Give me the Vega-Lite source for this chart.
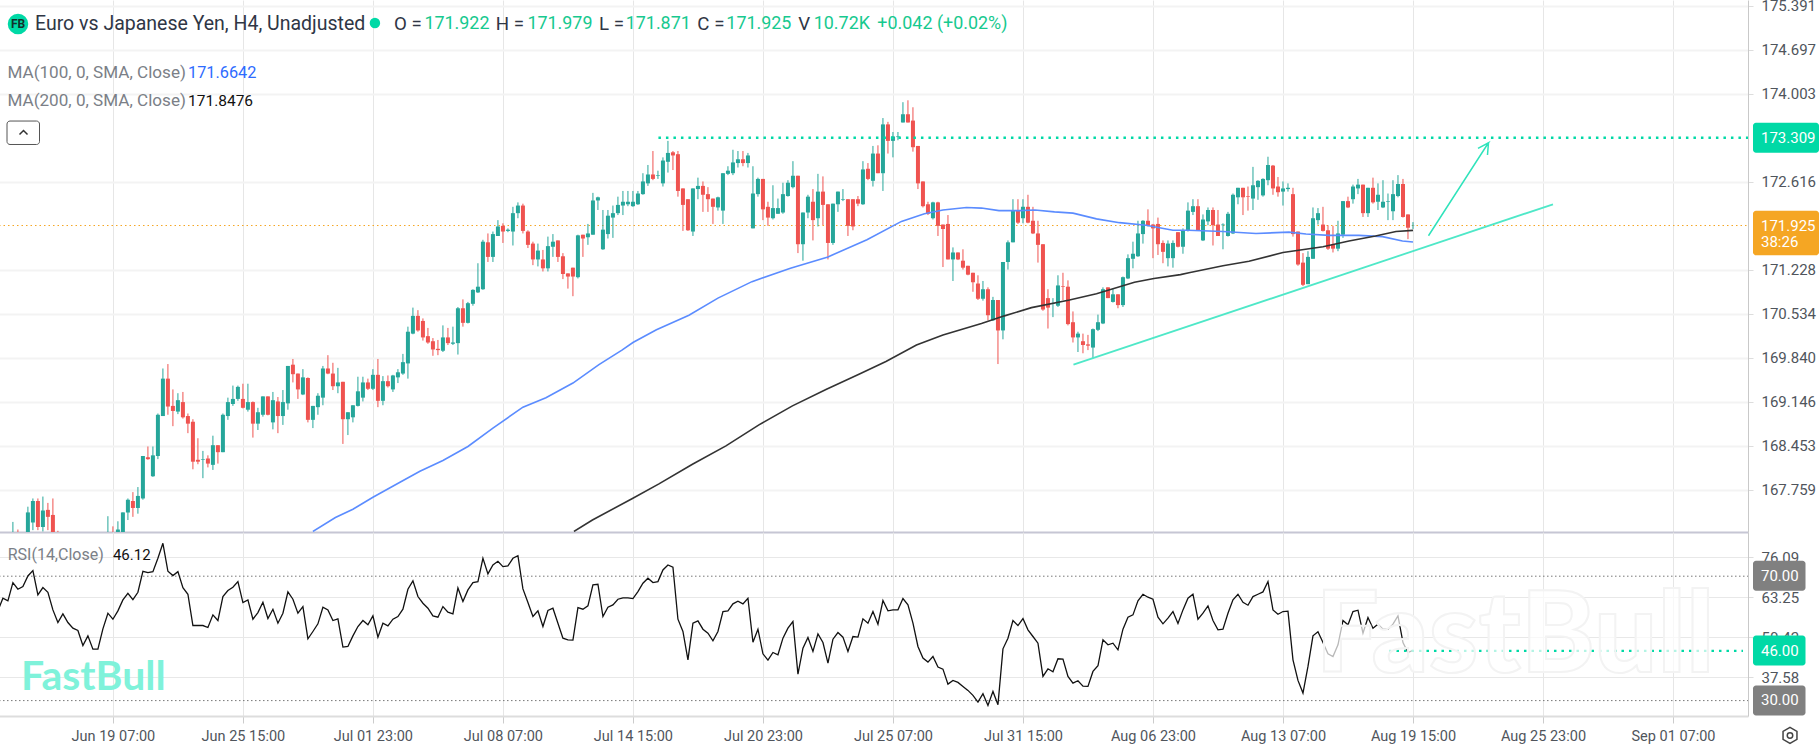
{
"$schema":"https://vega.github.io/schema/vega-lite/v6.json",
"padding":{"left":-2,"top":-2,"right":0,"bottom":0},
"background":"#ffffff",
"bounds":"flush",
"spacing":0,
"config":{"font":"Roboto","view":{"stroke":null},"axis":{"labelFont":"Roboto"}},
"datasets":{
"candles":[
{"i":3,"o":166.9,"h":167.25,"l":166.8,"c":167.0},{"i":4,"o":167.0,"h":167.13,"l":166.8,"c":166.9},{"i":6,"o":167.0,"h":167.49,"l":166.9,"c":167.4},{"i":7,"o":167.24,"h":167.62,"l":167.12,"c":167.58},{"i":8,"o":167.58,"h":167.62,"l":167.12,"c":167.17},{"i":9,"o":167.17,"h":167.65,"l":167.1,"c":167.43},{"i":10,"o":167.44,"h":167.55,"l":167.12,"c":167.33},{"i":11,"o":167.36,"h":167.62,"l":166.9,"c":167.0},{"i":12,"o":167.0,"h":167.11,"l":166.8,"c":166.9},
{"i":22,"o":166.9,"h":167.34,"l":166.8,"c":167.0},{"i":23,"o":167.0,"h":167.18,"l":166.8,"c":166.9},{"i":24,"o":167.0,"h":167.26,"l":166.9,"c":167.13},{"i":25,"o":167.03,"h":167.4,"l":167.0,"c":167.4},{"i":26,"o":167.4,"h":167.62,"l":167.28,"c":167.6},{"i":27,"o":167.58,"h":167.72,"l":167.33,"c":167.47},{"i":28,"o":167.47,"h":167.8,"l":167.38,"c":167.66},{"i":29,"o":167.62,"h":168.29,"l":167.6,"c":168.29},{"i":30,"o":168.27,"h":168.44,"l":168.23,"c":168.24},{"i":31,"o":167.97,"h":168.44,"l":167.96,"c":168.3},{"i":32,"o":168.29,"h":168.96,"l":168.24,"c":168.94},{"i":33,"o":168.92,"h":169.67,"l":168.92,"c":169.51},{"i":34,"o":169.51,"h":169.74,"l":168.94,"c":169.07},{"i":35,"o":169.08,"h":169.34,"l":168.76,"c":169.0},{"i":36,"o":168.99,"h":169.28,"l":168.95,"c":169.17},{"i":37,"o":169.14,"h":169.3,"l":168.88,"c":168.9},{"i":38,"o":168.92,"h":168.96,"l":168.65,"c":168.8},{"i":39,"o":168.83,"h":168.87,"l":168.08,"c":168.2},{"i":40,"o":168.23,"h":168.57,"l":168.16,"c":168.2},{"i":41,"o":168.23,"h":168.37,"l":167.94,"c":168.24},{"i":42,"o":168.25,"h":168.3,"l":168.11,"c":168.17},{"i":43,"o":168.15,"h":168.61,"l":168.07,"c":168.46},{"i":44,"o":168.46,"h":168.46,"l":168.17,"c":168.35},{"i":45,"o":168.35,"h":168.96,"l":168.35,"c":168.94},{"i":46,"o":168.92,"h":169.21,"l":168.86,"c":169.14},{"i":47,"o":169.11,"h":169.4,"l":169.08,"c":169.19},{"i":48,"o":169.19,"h":169.4,"l":169.16,"c":169.38},{"i":49,"o":169.19,"h":169.43,"l":169.04,"c":169.05},{"i":50,"o":169.02,"h":169.43,"l":168.99,"c":169.14},{"i":51,"o":169.14,"h":169.15,"l":168.58,"c":168.8},{"i":52,"o":168.8,"h":169.05,"l":168.7,"c":168.98},{"i":53,"o":168.94,"h":169.23,"l":168.91,"c":169.23},{"i":54,"o":169.23,"h":169.23,"l":168.93,"c":168.94},{"i":55,"o":168.82,"h":169.3,"l":168.71,"c":169.17},{"i":56,"o":169.15,"h":169.22,"l":168.65,"c":168.92},{"i":57,"o":168.92,"h":169.33,"l":168.78,"c":169.14},{"i":58,"o":169.12,"h":169.71,"l":169.02,"c":169.71},{"i":59,"o":169.73,"h":169.82,"l":169.45,"c":169.58},{"i":60,"o":169.59,"h":169.59,"l":169.19,"c":169.34},{"i":61,"o":169.26,"h":169.66,"l":169.25,"c":169.53},{"i":62,"o":169.52,"h":169.53,"l":168.82,"c":168.86},{"i":63,"o":168.86,"h":169.08,"l":168.73,"c":169.08},{"i":64,"o":169.06,"h":169.28,"l":168.94,"c":169.24},{"i":65,"o":169.21,"h":169.71,"l":169.09,"c":169.67},{"i":66,"o":169.67,"h":169.88,"l":169.58,"c":169.59},{"i":67,"o":169.59,"h":169.76,"l":169.33,"c":169.39},{"i":68,"o":169.39,"h":169.68,"l":169.28,"c":169.45},{"i":69,"o":169.46,"h":169.46,"l":168.48,"c":168.87},{"i":70,"o":168.87,"h":168.98,"l":168.62,"c":168.98},{"i":71,"o":168.9,"h":169.09,"l":168.82,"c":169.09},{"i":72,"o":169.08,"h":169.54,"l":169.07,"c":169.31},{"i":73,"o":169.21,"h":169.54,"l":169.15,"c":169.45},{"i":74,"o":169.45,"h":169.51,"l":169.33,"c":169.35},{"i":75,"o":169.35,"h":169.66,"l":169.33,"c":169.57},{"i":76,"o":169.57,"h":169.82,"l":169.06,"c":169.16},{"i":77,"o":169.16,"h":169.55,"l":169.09,"c":169.47},{"i":78,"o":169.47,"h":169.56,"l":169.37,"c":169.39},{"i":79,"o":169.34,"h":169.57,"l":169.3,"c":169.56},{"i":80,"o":169.53,"h":169.66,"l":169.44,"c":169.61},{"i":81,"o":169.59,"h":169.9,"l":169.57,"c":169.77},{"i":82,"o":169.75,"h":170.33,"l":169.51,"c":170.25},{"i":83,"o":170.22,"h":170.63,"l":170.21,"c":170.5},{"i":84,"o":170.5,"h":170.59,"l":170.25,"c":170.27},{"i":85,"o":170.42,"h":170.46,"l":170.11,"c":170.16},{"i":86,"o":170.18,"h":170.31,"l":170.06,"c":170.08},{"i":87,"o":170.1,"h":170.15,"l":169.87,"c":169.97},{"i":88,"o":169.98,"h":170.12,"l":169.88,"c":169.96},{"i":89,"o":169.95,"h":170.35,"l":169.93,"c":170.16},{"i":90,"o":170.16,"h":170.31,"l":170.04,"c":170.07},{"i":91,"o":170.06,"h":170.33,"l":170.04,"c":170.08},{"i":92,"o":170.07,"h":170.64,"l":169.89,"c":170.62},{"i":93,"o":170.62,"h":170.76,"l":170.33,"c":170.39},{"i":94,"o":170.39,"h":170.72,"l":170.38,"c":170.7},{"i":95,"o":170.69,"h":170.92,"l":170.66,"c":170.91},{"i":96,"o":170.87,"h":171.33,"l":170.86,"c":170.96},{"i":97,"o":170.92,"h":171.7,"l":170.91,"c":171.67},{"i":98,"o":171.66,"h":171.8,"l":171.35,"c":171.43},{"i":99,"o":171.43,"h":171.83,"l":171.35,"c":171.79},{"i":100,"o":171.76,"h":172.01,"l":171.76,"c":171.91},
{"i":101,"o":171.92,"h":171.96,"l":171.65,"c":171.83},{"i":102,"o":171.84,"h":171.88,"l":171.82,"c":171.86},{"i":103,"o":171.83,"h":172.22,"l":171.61,"c":172.12},{"i":104,"o":172.12,"h":172.29,"l":172.04,"c":172.24},{"i":105,"o":172.24,"h":172.27,"l":171.8,"c":171.84},{"i":106,"o":171.83,"h":171.85,"l":171.57,"c":171.62},{"i":107,"o":171.64,"h":171.67,"l":171.3,"c":171.39},{"i":108,"o":171.39,"h":171.64,"l":171.28,"c":171.53},{"i":109,"o":171.39,"h":171.54,"l":171.2,"c":171.25},{"i":110,"o":171.25,"h":171.75,"l":171.2,"c":171.6},{"i":111,"o":171.59,"h":171.79,"l":171.43,"c":171.67},{"i":112,"o":171.69,"h":171.69,"l":171.35,"c":171.43},{"i":113,"o":171.44,"h":171.49,"l":171.08,"c":171.16},{"i":114,"o":171.17,"h":171.17,"l":170.93,"c":171.12},{"i":115,"o":171.26,"h":171.26,"l":170.81,"c":171.12},{"i":116,"o":171.11,"h":171.78,"l":171.09,"c":171.77},{"i":117,"o":171.78,"h":171.78,"l":171.43,"c":171.72},{"i":118,"o":171.74,"h":171.95,"l":171.62,"c":171.8},{"i":119,"o":171.78,"h":172.44,"l":171.78,"c":172.32},{"i":120,"o":172.32,"h":172.38,"l":172.17,"c":172.37},
{"i":121,"o":171.55,"h":172.17,"l":171.54,"c":171.86},{"i":122,"o":171.79,"h":172.17,"l":171.72,"c":172.08},{"i":123,"o":172.05,"h":172.24,"l":171.73,"c":172.12},{"i":124,"o":172.12,"h":172.38,"l":172.09,"c":172.25},{"i":125,"o":172.24,"h":172.47,"l":172.09,"c":172.3},{"i":126,"o":172.26,"h":172.47,"l":172.23,"c":172.3},{"i":127,"o":172.23,"h":172.47,"l":172.22,"c":172.3},{"i":128,"o":172.26,"h":172.47,"l":172.25,"c":172.43},{"i":129,"o":172.42,"h":172.75,"l":172.41,"c":172.62},{"i":130,"o":172.59,"h":172.88,"l":172.55,"c":172.73},{"i":131,"o":172.73,"h":173.1,"l":172.64,"c":172.66},{"i":132,"o":172.71,"h":172.79,"l":172.66,"c":172.72},{"i":133,"o":172.59,"h":173.0,"l":172.54,"c":172.95},{"i":134,"o":172.93,"h":173.26,"l":172.76,"c":173.07},{"i":135,"o":173.08,"h":173.1,"l":172.8,"c":173.03},{"i":136,"o":173.05,"h":173.1,"l":172.38,"c":172.47},{"i":137,"o":172.51,"h":172.51,"l":171.84,"c":172.25},{"i":138,"o":172.34,"h":172.34,"l":171.84,"c":171.85},{"i":139,"o":171.83,"h":172.51,"l":171.76,"c":172.51},{"i":140,"o":172.5,"h":172.68,"l":172.34,"c":172.55},{"i":141,"o":172.55,"h":172.62,"l":172.14,"c":172.41},{"i":142,"o":172.42,"h":172.53,"l":172.14,"c":172.34},{"i":143,"o":172.35,"h":172.35,"l":171.95,"c":172.22},{"i":144,"o":172.21,"h":172.38,"l":172.16,"c":172.37},{"i":145,"o":172.16,"h":172.75,"l":171.95,"c":172.75},{"i":146,"o":172.74,"h":172.86,"l":172.72,"c":172.79},{"i":147,"o":172.75,"h":173.12,"l":172.72,"c":172.92},{"i":148,"o":172.91,"h":173.1,"l":172.84,"c":172.97},{"i":149,"o":172.97,"h":173.1,"l":172.86,"c":172.91},{"i":150,"o":172.91,"h":173.07,"l":172.84,"c":173.03},{"i":151,"o":171.88,"h":172.86,"l":171.88,"c":172.43},{"i":152,"o":172.42,"h":172.68,"l":172.38,"c":172.66},{"i":153,"o":172.66,"h":172.66,"l":172.01,"c":172.18},{"i":154,"o":172.22,"h":172.3,"l":171.92,"c":172.05},{"i":155,"o":172.04,"h":172.56,"l":172.02,"c":172.2},{"i":156,"o":172.11,"h":172.35,"l":172.11,"c":172.2},{"i":157,"o":172.13,"h":172.6,"l":172.11,"c":172.42},{"i":158,"o":172.39,"h":172.64,"l":172.38,"c":172.6},{"i":159,"o":172.53,"h":172.94,"l":172.51,"c":172.71},{"i":160,"o":172.71,"h":172.71,"l":171.49,"c":171.63},{"i":161,"o":171.63,"h":172.13,"l":171.37,"c":172.13},{"i":162,"o":172.13,"h":172.41,"l":172.04,"c":172.38},{"i":163,"o":172.3,"h":172.5,"l":171.69,"c":172.01},{"i":164,"o":172.04,"h":172.74,"l":171.91,"c":172.46},{"i":165,"o":172.46,"h":172.7,"l":171.93,"c":172.25},{"i":166,"o":172.26,"h":172.26,"l":171.39,"c":171.65},{"i":167,"o":171.65,"h":172.27,"l":171.62,"c":172.27},{"i":168,"o":172.26,"h":172.46,"l":172.14,"c":172.46},{"i":169,"o":172.33,"h":172.5,"l":172.31,"c":172.34},{"i":170,"o":172.34,"h":172.34,"l":171.76,"c":171.92},{"i":171,"o":172.34,"h":172.34,"l":171.85,"c":171.91},{"i":172,"o":172.34,"h":172.39,"l":172.23,"c":172.27},{"i":173,"o":172.26,"h":172.94,"l":172.25,"c":172.81},{"i":174,"o":172.82,"h":172.91,"l":172.64,"c":172.66},{"i":175,"o":172.63,"h":173.18,"l":172.54,"c":173.06},{"i":176,"o":173.06,"h":173.19,"l":172.75,"c":172.75},{"i":177,"o":172.75,"h":173.62,"l":172.47,"c":173.52},{"i":178,"o":173.52,"h":173.56,"l":173.06,"c":173.26},{"i":179,"o":173.26,"h":173.4,"l":173.0,"c":173.33},{"i":180,"o":173.32,"h":173.4,"l":173.27,"c":173.33},{"i":181,"o":173.55,"h":173.87,"l":173.55,"c":173.68},{"i":182,"o":173.68,"h":173.9,"l":173.55,"c":173.55},{"i":183,"o":173.58,"h":173.79,"l":173.09,"c":173.16},{"i":184,"o":173.18,"h":173.18,"l":172.5,"c":172.59},{"i":185,"o":172.62,"h":172.62,"l":172.21,"c":172.23},{"i":186,"o":172.26,"h":172.3,"l":172.09,"c":172.11},{"i":187,"o":172.04,"h":172.3,"l":172.02,"c":172.29},{"i":188,"o":172.29,"h":172.3,"l":171.76,"c":171.92},{"i":189,"o":171.94,"h":171.94,"l":171.27,"c":171.87},{"i":190,"o":171.95,"h":172.09,"l":171.39,"c":171.39},{"i":191,"o":171.39,"h":171.58,"l":171.05,"c":171.5},{"i":192,"o":171.5,"h":171.5,"l":171.38,"c":171.39},{"i":193,"o":171.37,"h":171.55,"l":171.23,"c":171.26},{"i":194,"o":171.29,"h":171.29,"l":171.14,"c":171.15},{"i":195,"o":171.18,"h":171.18,"l":170.88,"c":171.03},{"i":196,"o":171.01,"h":171.14,"l":170.75,"c":170.77},{"i":197,"o":170.77,"h":171.05,"l":170.74,"c":170.92},{"i":198,"o":170.92,"h":170.95,"l":170.43,"c":170.51},{"i":199,"o":170.43,"h":170.8,"l":170.42,"c":170.75},{"i":200,"o":170.75,"h":170.75,"l":169.74,"c":170.27},
{"i":201,"o":170.27,"h":171.35,"l":170.13,"c":171.35},{"i":202,"o":171.35,"h":171.69,"l":171.23,"c":171.66},{"i":203,"o":171.66,"h":172.34,"l":171.66,"c":172.17},{"i":204,"o":172.16,"h":172.34,"l":171.95,"c":171.97},{"i":205,"o":172.04,"h":172.34,"l":171.96,"c":172.22},{"i":206,"o":172.22,"h":172.41,"l":171.96,"c":171.97},{"i":207,"o":172.0,"h":172.22,"l":171.79,"c":171.8},{"i":208,"o":171.8,"h":172.0,"l":171.34,"c":171.62},{"i":209,"o":171.63,"h":171.63,"l":170.58,"c":170.6},{"i":210,"o":170.78,"h":170.92,"l":170.3,"c":170.63},{"i":211,"o":170.69,"h":170.78,"l":170.48,"c":170.7},{"i":212,"o":170.66,"h":171.14,"l":170.64,"c":170.98},{"i":213,"o":170.97,"h":171.18,"l":170.75,"c":170.96},{"i":214,"o":170.96,"h":171.06,"l":170.35,"c":170.37},{"i":215,"o":170.4,"h":170.57,"l":170.08,"c":170.16},{"i":216,"o":170.16,"h":170.25,"l":169.93,"c":170.22},{"i":217,"o":170.1,"h":170.22,"l":169.91,"c":170.04},{"i":218,"o":170.05,"h":170.2,"l":169.96,"c":170.03},{"i":219,"o":170.0,"h":170.3,"l":169.83,"c":170.29},{"i":220,"o":170.28,"h":170.52,"l":170.26,"c":170.4},{"i":221,"o":170.38,"h":170.95,"l":170.37,"c":170.92},{"i":222,"o":170.95,"h":170.95,"l":170.78,"c":170.78},{"i":223,"o":170.72,"h":170.93,"l":170.71,"c":170.84},{"i":224,"o":170.84,"h":170.84,"l":170.62,"c":170.67},{"i":225,"o":170.67,"h":171.12,"l":170.64,"c":171.11},{"i":226,"o":171.09,"h":171.47,"l":171.08,"c":171.41},{"i":227,"o":171.4,"h":171.67,"l":171.25,"c":171.48},{"i":228,"o":171.44,"h":172.0,"l":171.43,"c":171.8},{"i":229,"o":171.79,"h":172.01,"l":171.64,"c":172.0},{"i":230,"o":172.0,"h":172.18,"l":171.91,"c":171.92},{"i":231,"o":171.94,"h":171.95,"l":171.41,"c":171.88},{"i":232,"o":171.95,"h":172.05,"l":171.46,"c":171.63},{"i":233,"o":171.65,"h":171.69,"l":171.33,"c":171.51},{"i":234,"o":171.41,"h":171.69,"l":171.28,"c":171.64},{"i":235,"o":171.41,"h":171.69,"l":171.26,"c":171.65},{"i":236,"o":171.82,"h":171.82,"l":171.58,"c":171.59},{"i":237,"o":171.59,"h":171.88,"l":171.48,"c":171.84},{"i":238,"o":171.84,"h":172.29,"l":171.83,"c":172.16},{"i":239,"o":172.14,"h":172.34,"l":172.09,"c":172.23},{"i":240,"o":172.23,"h":172.34,"l":171.84,"c":171.85},{"i":241,"o":171.69,"h":172.1,"l":171.68,"c":172.02},{"i":242,"o":171.99,"h":172.21,"l":171.93,"c":172.17},{"i":243,"o":172.17,"h":172.21,"l":171.61,"c":171.93},{"i":244,"o":171.94,"h":172.17,"l":171.76,"c":171.76},{"i":245,"o":171.93,"h":171.96,"l":171.55,"c":171.94},{"i":246,"o":171.76,"h":172.14,"l":171.75,"c":172.11},{"i":247,"o":171.8,"h":172.43,"l":171.79,"c":172.41},{"i":248,"o":172.37,"h":172.52,"l":172.26,"c":172.52},{"i":249,"o":172.52,"h":172.52,"l":172.09,"c":172.37},{"i":250,"o":172.39,"h":172.54,"l":172.16,"c":172.38},{"i":251,"o":172.35,"h":172.85,"l":172.17,"c":172.56},{"i":252,"o":172.53,"h":172.64,"l":172.33,"c":172.63},{"i":253,"o":172.4,"h":172.67,"l":172.38,"c":172.66},{"i":254,"o":172.64,"h":173.01,"l":172.56,"c":172.88},{"i":255,"o":172.87,"h":172.88,"l":172.41,"c":172.51},{"i":256,"o":172.54,"h":172.69,"l":172.38,"c":172.45},{"i":257,"o":172.46,"h":172.62,"l":172.24,"c":172.51},{"i":258,"o":172.5,"h":172.59,"l":172.46,"c":172.52},{"i":259,"o":172.42,"h":172.52,"l":171.75,"c":171.79},{"i":260,"o":171.83,"h":171.83,"l":171.29,"c":171.31},{"i":261,"o":171.34,"h":171.49,"l":170.97,"c":170.99},{"i":262,"o":171.0,"h":171.52,"l":171.0,"c":171.43},{"i":263,"o":171.4,"h":172.21,"l":171.4,"c":172.04},{"i":264,"o":172.01,"h":172.2,"l":171.94,"c":172.12},{"i":265,"o":171.94,"h":172.22,"l":171.83,"c":171.84},{"i":266,"o":171.85,"h":171.93,"l":171.54,"c":171.56},{"i":267,"o":171.63,"h":171.92,"l":171.5,"c":171.56},{"i":268,"o":171.56,"h":172.0,"l":171.52,"c":171.8},{"i":269,"o":171.78,"h":172.31,"l":171.73,"c":172.31},{"i":270,"o":172.31,"h":172.38,"l":172.2,"c":172.21},{"i":271,"o":172.34,"h":172.57,"l":172.27,"c":172.54},{"i":272,"o":172.51,"h":172.66,"l":172.42,"c":172.57},{"i":273,"o":172.57,"h":172.57,"l":172.06,"c":172.12},{"i":274,"o":172.12,"h":172.52,"l":172.06,"c":172.52},{"i":275,"o":172.52,"h":172.68,"l":172.27,"c":172.29},{"i":276,"o":172.3,"h":172.59,"l":172.17,"c":172.41},{"i":277,"o":172.21,"h":172.64,"l":172.2,"c":172.3},{"i":278,"o":172.3,"h":172.43,"l":172.01,"c":172.31},{"i":279,"o":172.15,"h":172.64,"l":172.01,"c":172.42},{"i":280,"o":172.39,"h":172.72,"l":172.37,"c":172.58},{"i":281,"o":172.58,"h":172.66,"l":172.05,"c":172.06},{"i":282,"o":172.1,"h":172.1,"l":171.71,"c":171.89},{"i":283,"o":171.922,"h":171.979,"l":171.871,"c":171.925}
],
"ma100":[
{"i":63,"p":167.1},{"i":67.5,"p":167.32},{"i":71,"p":167.45},{"i":75,"p":167.64},{"i":80.5,"p":167.88},{"i":84.4,"p":168.05},{"i":89,"p":168.22},{"i":94,"p":168.44},{"i":99,"p":168.73},{"i":105,"p":169.06},{"i":109.6,"p":169.21},{"i":115,"p":169.44},{"i":120.2,"p":169.73},{"i":124.8,"p":169.96},{"i":127,"p":170.08},{"i":131.7,"p":170.28},{"i":138.2,"p":170.51},{"i":144,"p":170.78},{"i":150.8,"p":171.04},{"i":158.5,"p":171.25},{"i":166,"p":171.43},{"i":173.8,"p":171.7},{"i":180.7,"p":171.99},{"i":185.3,"p":172.11},{"i":189,"p":172.17},{"i":193.7,"p":172.21},{"i":196.7,"p":172.2},{"i":200.2,"p":172.16},{"i":204.4,"p":172.16},{"i":207.4,"p":172.17},{"i":211.3,"p":172.14},{"i":215,"p":172.12},{"i":219.7,"p":172.03},{"i":224.3,"p":171.97},{"i":229.6,"p":171.93},{"i":235,"p":171.85},{"i":238,"p":171.85},{"i":245,"p":171.83},{"i":251.6,"p":171.8},{"i":258.2,"p":171.82},{"i":261.6,"p":171.79},{"i":266.2,"p":171.77},{"i":272.2,"p":171.77},{"i":276.9,"p":171.75},{"i":280.9,"p":171.68},{"i":283,"p":171.664}
],
"ma200":[
{"i":115.2,"p":167.1},{"i":118.9,"p":167.28},{"i":126.9,"p":167.62},{"i":132.2,"p":167.85},{"i":138.9,"p":168.16},{"i":145.6,"p":168.45},{"i":152.2,"p":168.78},{"i":158.9,"p":169.08},{"i":165.6,"p":169.34},{"i":172.2,"p":169.58},{"i":177.6,"p":169.78},{"i":183.7,"p":170.04},{"i":189,"p":170.2},{"i":196.7,"p":170.38},{"i":201.3,"p":170.5},{"i":206.7,"p":170.63},{"i":214.3,"p":170.75},{"i":219.7,"p":170.85},{"i":227.3,"p":171.03},{"i":231.2,"p":171.09},{"i":236.5,"p":171.15},{"i":238.2,"p":171.18},{"i":245,"p":171.29},{"i":250.2,"p":171.36},{"i":257,"p":171.5},{"i":265,"p":171.59},{"i":270.2,"p":171.68},{"i":275.5,"p":171.76},{"i":279.6,"p":171.83},{"i":283,"p":171.848}
],
"rsi":[
{"i":0,"v":58.85},{"i":1,"v":62.92},{"i":2,"v":62.06},{"i":3,"v":67.94},{"i":4,"v":65.8},{"i":5,"v":66.66},{"i":6,"v":70.08},{"i":7,"v":71.8},{"i":8,"v":63.99},{"i":9,"v":66.34},{"i":10,"v":64.84},{"i":11,"v":59.17},{"i":12,"v":55.1},{"i":13,"v":57.89},{"i":14,"v":55.1},{"i":15,"v":53.29},{"i":16,"v":52.54},{"i":17,"v":47.72},{"i":18,"v":50.82},{"i":19,"v":46.54},{"i":20,"v":46.54},{"i":21,"v":53.07},{"i":22,"v":58.1},{"i":23,"v":56.17},{"i":24,"v":58.85},{"i":25,"v":62.38},{"i":26,"v":64.52},{"i":27,"v":62.49},{"i":28,"v":64.84},{"i":29,"v":71.58},{"i":30,"v":71.15},{"i":31,"v":71.47},{"i":32,"v":75.76},{"i":33,"v":80.57},{"i":34,"v":71.58},{"i":35,"v":70.19},{"i":36,"v":71.47},{"i":37,"v":66.34},{"i":38,"v":64.2},{"i":39,"v":54.14},{"i":40,"v":54.14},{"i":41,"v":54.14},{"i":42,"v":53.5},{"i":43,"v":57.57},{"i":44,"v":55.75},{"i":45,"v":63.45},{"i":46,"v":65.38},{"i":47,"v":66.45},{"i":48,"v":68.27},{"i":49,"v":61.52},{"i":50,"v":62.38},{"i":51,"v":56.17},{"i":52,"v":58.31},{"i":53,"v":61.63},{"i":54,"v":56.39},{"i":55,"v":59.38},{"i":56,"v":54.89},{"i":57,"v":58.1},{"i":58,"v":64.95},{"i":59,"v":62.59},{"i":60,"v":58.1},{"i":61,"v":60.24},{"i":62,"v":49.86},{"i":63,"v":52.22},{"i":64,"v":54.68},{"i":65,"v":60.03},{"i":66,"v":59.17},{"i":67,"v":55.75},{"i":68,"v":56.28},{"i":69,"v":47.19},{"i":70,"v":47.4},{"i":71,"v":50.82},{"i":72,"v":53.82},{"i":73,"v":55.75},{"i":74,"v":54.36},{"i":75,"v":57.24},{"i":76,"v":50.4},{"i":77,"v":54.89},{"i":78,"v":54.03},{"i":79,"v":56.17},{"i":80,"v":57.03},{"i":81,"v":59.38},{"i":82,"v":65.8},{"i":83,"v":68.48},{"i":84,"v":63.45},{"i":85,"v":61.31},{"i":86,"v":59.71},{"i":87,"v":57.24},{"i":88,"v":56.82},{"i":89,"v":60.24},{"i":90,"v":58.42},{"i":91,"v":57.89},{"i":92,"v":66.23},{"i":93,"v":61.85},{"i":94,"v":65.59},{"i":95,"v":67.94},{"i":96,"v":68.27},{"i":97,"v":75.76},{"i":98,"v":70.73},{"i":99,"v":73.62},{"i":100,"v":74.79},
{"i":101,"v":73.08},{"i":102,"v":73.29},{"i":103,"v":75.76},{"i":104,"v":76.61},{"i":105,"v":65.91},{"i":106,"v":61.52},{"i":107,"v":57.03},{"i":108,"v":58.85},{"i":109,"v":53.82},{"i":110,"v":58.96},{"i":111,"v":59.71},{"i":112,"v":54.89},{"i":113,"v":50.08},{"i":114,"v":49.54},{"i":115,"v":49.43},{"i":116,"v":59.92},{"i":117,"v":59.38},{"i":118,"v":60.45},{"i":119,"v":67.2},{"i":120,"v":67.41},{"i":121,"v":57.03},{"i":122,"v":60.03},{"i":123,"v":60.78},{"i":124,"v":62.59},{"i":125,"v":63.02},{"i":126,"v":63.02},{"i":127,"v":62.81},{"i":128,"v":65.06},{"i":129,"v":67.73},{"i":130,"v":69.34},{"i":131,"v":67.94},{"i":132,"v":68.27},{"i":133,"v":72.01},{"i":134,"v":73.62},{"i":135,"v":72.87},{"i":136,"v":56.17},{"i":137,"v":52.22},{"i":138,"v":43.12},{"i":139,"v":54.89},{"i":140,"v":55.64},{"i":141,"v":52.96},{"i":142,"v":51.68},{"i":143,"v":49.22},{"i":144,"v":52.22},{"i":145,"v":58.64},{"i":146,"v":58.85},{"i":147,"v":61.1},{"i":148,"v":61.95},{"i":149,"v":61.1},{"i":150,"v":62.92},{"i":151,"v":48.79},{"i":152,"v":52.96},{"i":153,"v":45.05},{"i":154,"v":43.01},{"i":155,"v":45.47},{"i":156,"v":44.73},{"i":157,"v":50.08},{"i":158,"v":53.29},{"i":159,"v":55.43},{"i":160,"v":38.52},{"i":161,"v":46.87},{"i":162,"v":50.29},{"i":163,"v":45.8},{"i":164,"v":51.47},{"i":165,"v":48.68},{"i":166,"v":42.05},{"i":167,"v":49.75},{"i":168,"v":51.89},{"i":169,"v":50.4},{"i":170,"v":45.8},{"i":171,"v":50.61},{"i":172,"v":50.4},{"i":173,"v":56.28},{"i":174,"v":54.89},{"i":175,"v":58.64},{"i":176,"v":54.57},{"i":177,"v":62.17},{"i":178,"v":58.85},{"i":179,"v":59.17},{"i":180,"v":59.17},{"i":181,"v":62.81},{"i":182,"v":60.78},{"i":183,"v":54.89},{"i":184,"v":47.4},{"i":185,"v":43.66},{"i":186,"v":42.37},{"i":187,"v":44.19},{"i":188,"v":40.77},{"i":189,"v":40.12},{"i":190,"v":35.31},{"i":191,"v":36.49},{"i":192,"v":35.84},{"i":193,"v":34.56},{"i":194,"v":33.28},{"i":195,"v":31.67},{"i":196,"v":29.53},{"i":197,"v":32.21},{"i":198,"v":28.46},{"i":199,"v":32.96},{"i":200,"v":28.68},
{"i":201,"v":46.65},{"i":202,"v":50.08},{"i":203,"v":55.75},{"i":204,"v":54.14},{"i":205,"v":56.39},{"i":206,"v":52.75},{"i":207,"v":50.61},{"i":208,"v":48.47},{"i":209,"v":37.77},{"i":210,"v":40.23},{"i":211,"v":39.27},{"i":212,"v":43.44},{"i":213,"v":43.33},{"i":214,"v":37.77},{"i":215,"v":35.63},{"i":216,"v":36.38},{"i":217,"v":34.67},{"i":218,"v":34.56},{"i":219,"v":39.38},{"i":220,"v":41.19},{"i":221,"v":49.54},{"i":222,"v":47.94},{"i":223,"v":48.47},{"i":224,"v":46.33},{"i":225,"v":52.96},{"i":226,"v":56.82},{"i":227,"v":57.57},{"i":228,"v":62.06},{"i":229,"v":64.2},{"i":230,"v":63.24},{"i":231,"v":62.59},{"i":232,"v":56.82},{"i":233,"v":54.68},{"i":234,"v":56.5},{"i":235,"v":58.64},{"i":236,"v":54.78},{"i":237,"v":59.17},{"i":238,"v":62.92},{"i":239,"v":64.2},{"i":240,"v":56.17},{"i":241,"v":58.1},{"i":242,"v":60.45},{"i":243,"v":55.75},{"i":244,"v":52.75},{"i":245,"v":52.96},{"i":246,"v":58.1},{"i":247,"v":62.38},{"i":248,"v":64.2},{"i":249,"v":61.63},{"i":250,"v":60.67},{"i":251,"v":63.45},{"i":252,"v":64.2},{"i":253,"v":64.95},{"i":254,"v":68.27},{"i":255,"v":59.17},{"i":256,"v":57.78},{"i":257,"v":58.64},{"i":258,"v":58.74},{"i":259,"v":43.12},{"i":260,"v":36.49},{"i":261,"v":32.42},{"i":262,"v":40.98},{"i":263,"v":50.82},{"i":264,"v":52.11},{"i":265,"v":48.68},{"i":266,"v":45.05},{"i":267,"v":44.19},{"i":268,"v":47.94},{"i":269,"v":55.75},{"i":270,"v":54.36},{"i":271,"v":58.64},{"i":272,"v":59.06},{"i":273,"v":51.68},{"i":274,"v":56.71},{"i":275,"v":53.29},{"i":276,"v":54.57},{"i":277,"v":52.96},{"i":278,"v":52.96},{"i":279,"v":54.57},{"i":280,"v":57.24},{"i":281,"v":48.68},{"i":282,"v":45.47},{"i":283,"v":46.12}
],
"trend":[{"i":215.1,"p":169.73},{"i":311,"p":172.26}],
"arrow":[{"n":1,"i":286.1,"p":171.764},{"n":2,"i":298.1,"p":173.231},{"n":3,"i":296,"p":173.143},{"n":4,"i":298.1,"p":173.231},{"n":5,"i":297.9,"p":173.037}],
"headerText":[
{"i":7.42,"p":175.104,"label":"Euro vs Japanese Yen, H4, Unadjusted","kind":"name"},
{"i":79.2,"p":175.104,"label":"O =","kind":"field"},{"i":85.3,"p":175.104,"label":"171.922","kind":"up"},
{"i":99.56,"p":175.104,"label":"H =","kind":"field"},{"i":105.9,"p":175.104,"label":"171.979","kind":"up"},
{"i":120.2,"p":175.104,"label":"L =","kind":"field"},{"i":125.56,"p":175.104,"label":"171.871","kind":"up"},
{"i":139.88,"p":175.104,"label":"C =","kind":"field"},{"i":145.68,"p":175.104,"label":"171.925","kind":"up"},
{"i":160.08,"p":175.104,"label":"V","kind":"field"},{"i":163.16,"p":175.104,"label":"10.72K","kind":"up"},
{"i":175.88,"p":175.104,"label":"+0.042 (+0.02%)","kind":"up"},
{"i":1.9,"p":174.33,"label":"MA(100, 0, SMA, Close)","kind":"muted"},{"i":38.02,"p":174.33,"label":"171.6642","kind":"ma100"},
{"i":1.9,"p":173.889,"label":"MA(200, 0, SMA, Close)","kind":"muted"},{"i":38.02,"p":173.889,"label":"171.8476","kind":"black"}
],
"priceTags":[{"i":351,"i2":364.2,"p":173.546,"p2":173.073,"kind":"teal"},{"i":351,"i2":364.2,"p":172.159,"p2":171.455,"kind":"orange"}],
"priceTagText":[{"i":352.6,"p":173.309,"label":"173.309"},{"i":352.6,"p":171.925,"label":"171.925"},{"i":352.6,"p":171.66,"label":"38:26"}],
"rsiTags":[{"i":351,"i2":361.5,"v":74.97,"v2":65.35,"kind":"gray"},{"i":351,"i2":361.5,"v":34.87,"v2":25.24,"kind":"gray"},{"i":351,"i2":361.5,"v":50.92,"v2":41.29,"kind":"teal"}],
"rsiTagText":[{"i":352.6,"v":70.18,"label":"70.00"},{"i":352.6,"v":46.1,"label":"46.00"},{"i":352.6,"v":30.05,"label":"30.00"}]
},
"vconcat":[
{
"width":1749,"height":532,
"layer":[
{"data":{"values":[{"i":0.22,"i2":350,"p":171.925}]},"mark":{"type":"rule","color":"#f5a623","strokeWidth":1,"strokeDash":[1.5,3]},
 "encoding":{"y":{"field":"p","type":"quantitative","title":null,"scale":{"domain":[167.091,175.482],"nice":false,"zero":false,"padding":0},
   "axis":{"orient":"right","values":[175.391,174.697,174.003,172.616,171.228,170.534,169.84,169.146,168.453,167.759],"format":".3f","grid":true,"gridColor":"#f3f3f3","gridWidth":2,"tickColor":"#dddddd","tickSize":5,"labelPadding":8,"labelFontSize":15,"labelColor":"#50555c","domainColor":"#c9c9c9","labelOverlap":false,"labelBound":false,"labelFlush":false}},
  "x":{"field":"i","type":"quantitative","title":null,"scale":{"domain":[0.22,350],"nice":false,"zero":false,"padding":0},
   "axis":{"orient":"bottom","values":[23,49,75,101,127,153,179,205,231,257,283,309,335],"labels":false,"ticks":false,"grid":true,"gridColor":"#e6e6e6","domainColor":"#c6c6d4","domainWidth":2}},"x2":{"field":"i2"}}},
{"data":{"name":"candles"},"mark":{"type":"rule","strokeWidth":1,"clip":true},
 "encoding":{"x":{"field":"i","type":"quantitative","title":null},"y":{"field":"h","type":"quantitative","title":null},"y2":{"field":"l"},
  "color":{"condition":{"test":"datum.c>=datum.o","value":"#26a69a"},"value":"#ef5350"}}},
{"data":{"name":"candles"},"mark":{"type":"bar","width":4,"clip":true},
 "encoding":{"x":{"field":"i","type":"quantitative","title":null},"y":{"field":"o","type":"quantitative","title":null},"y2":{"field":"c"},
  "color":{"condition":{"test":"datum.c>=datum.o","value":"#26a69a"},"value":"#ef5350"}}},
{"data":{"name":"ma100"},"mark":{"type":"line","color":"#5b8cff","strokeWidth":1.6,"clip":true},
 "encoding":{"x":{"field":"i","type":"quantitative","title":null},"y":{"field":"p","type":"quantitative","title":null}}},
{"data":{"name":"ma200"},"mark":{"type":"line","color":"#333333","strokeWidth":1.6,"clip":true},
 "encoding":{"x":{"field":"i","type":"quantitative","title":null},"y":{"field":"p","type":"quantitative","title":null}}},
{"data":{"name":"trend"},"mark":{"type":"line","color":"#4fe8c8","strokeWidth":1.8},
 "encoding":{"x":{"field":"i","type":"quantitative","title":null},"y":{"field":"p","type":"quantitative","title":null}}},
{"data":{"name":"arrow"},"mark":{"type":"line","color":"#2fe3bb","strokeWidth":1.5},
 "encoding":{"x":{"field":"i","type":"quantitative","title":null},"y":{"field":"p","type":"quantitative","title":null},"order":{"field":"n","type":"ordinal"}}},
{"data":{"values":[{"i":132.1,"i2":350,"p":173.309}]},"mark":{"type":"rule","color":"#00d9a6","strokeWidth":2.4,"strokeDash":[2.5,5]},
 "encoding":{"x":{"field":"i","type":"quantitative","title":null},"x2":{"field":"i2"},"y":{"field":"p","type":"quantitative","title":null}}},
{"data":{"values":[{"i":1.82,"i2":8.32,"p":173.573,"p2":173.203}]},"mark":{"type":"rect","fill":"#ffffff","stroke":"#555555","strokeWidth":1,"cornerRadius":3},
 "encoding":{"x":{"field":"i","type":"quantitative","title":null},"x2":{"field":"i2"},"y":{"field":"p","type":"quantitative","title":null},"y2":{"field":"p2"}}},
{"data":{"values":[{"i":5.12,"p":173.392}]},"mark":{"type":"point","shape":"M-0.8,0.4L0,-0.4L0.8,0.4","size":100,"color":"#333333","strokeWidth":1.5,"filled":false,"opacity":1},
 "encoding":{"x":{"field":"i","type":"quantitative","title":null},"y":{"field":"p","type":"quantitative","title":null}}},
{"data":{"values":[{"i":4.02,"p":175.104}]},"mark":{"type":"point","shape":"circle","size":420,"filled":true,"color":"#00d9a6","opacity":1},
 "encoding":{"x":{"field":"i","type":"quantitative","title":null},"y":{"field":"p","type":"quantitative","title":null}}},
{"data":{"values":[{"i":4.02,"p":175.104,"label":"FB"}]},"mark":{"type":"text","fontSize":12,"fontWeight":"bold","color":"#12302c","align":"center","baseline":"middle"},
 "encoding":{"x":{"field":"i","type":"quantitative","title":null},"y":{"field":"p","type":"quantitative","title":null},"text":{"field":"label"}}},
{"data":{"values":[{"i":75.4,"p":175.12}]},"mark":{"type":"point","shape":"circle","size":110,"filled":true,"color":"#00d9a6","opacity":1},
 "encoding":{"x":{"field":"i","type":"quantitative","title":null},"y":{"field":"p","type":"quantitative","title":null}}},
{"data":{"name":"headerText"},"mark":{"type":"text","align":"left","baseline":"middle"},
 "encoding":{"x":{"field":"i","type":"quantitative","title":null},"y":{"field":"p","type":"quantitative","title":null},"text":{"field":"label"},
  "size":{"field":"kind","type":"nominal","legend":null,"scale":{"domain":["name","field","up","muted","ma100","black"],"range":[19.5,15.5,15.5,16,15.8,15.8]}},
  "color":{"field":"kind","type":"nominal","legend":null,"scale":{"domain":["name","field","up","muted","ma100","black"],"range":["#2f3645","#2f3645","#17c98f","#7b7f87","#2e6bff","#111111"]}}}},
{"data":{"name":"priceTags"},"mark":{"type":"rect","cornerRadius":3},
 "encoding":{"x":{"field":"i","type":"quantitative","title":null},"x2":{"field":"i2"},"y":{"field":"p","type":"quantitative","title":null},"y2":{"field":"p2"},
  "color":{"field":"kind","type":"nominal","legend":null,"scale":{"domain":["teal","orange"],"range":["#00d9a6","#f5a623"]}}}},
{"data":{"name":"priceTagText"},"mark":{"type":"text","fontSize":15,"align":"left","baseline":"middle","color":"#ffffff"},
 "encoding":{"x":{"field":"i","type":"quantitative","title":null},"y":{"field":"p","type":"quantitative","title":null},"text":{"field":"label"}}}
],
"resolve":{"scale":{"color":"independent"}}
},
{
"width":1749,"height":184,
"layer":[
{"data":{"values":[{"i":0.22,"i2":350,"v":70},{"i":0.22,"i2":350,"v":30}]},"mark":{"type":"rule","color":"#777777","strokeWidth":1,"strokeDash":[1.5,2.5]},
 "encoding":{"y":{"field":"v","type":"quantitative","title":null,"scale":{"domain":[25.05,84.21],"nice":false,"zero":false,"padding":0},
   "axis":{"orient":"right","values":[76.09,63.25,50.42,37.58],"format":".2f","grid":true,"gridColor":"#e8e8e8","tickColor":"#dddddd","tickSize":5,"labelPadding":8,"labelFontSize":15,"labelColor":"#50555c","domainColor":"#c9c9c9","labelOverlap":false,"labelBound":false,"labelFlush":false}},
  "x":{"field":"i","type":"quantitative","title":null,"scale":{"domain":[0.22,350],"nice":false,"zero":false,"padding":0},
   "axis":{"orient":"bottom","values":[23,49,75,101,127,153,179,205,231,257,283,309,335],"labelExpr":"['Jun 19 07:00','Jun 25 15:00','Jul 01 23:00','Jul 08 07:00','Jul 14 15:00','Jul 20 23:00','Jul 25 07:00','Jul 31 15:00','Aug 06 23:00','Aug 13 07:00','Aug 19 15:00','Aug 25 23:00','Sep 01 07:00'][(datum.value-23)/26]","grid":true,"gridColor":"#e6e6e6","tickColor":"#cccccc","tickSize":7,"labelPadding":6,"labelFontSize":14.5,"labelColor":"#50555c","domainColor":"#dddddd","domainWidth":2,"labelOverlap":false,"labelBound":false,"labelFlush":false}},"x2":{"field":"i2"}}},
{"data":{"name":"rsi"},"mark":{"type":"line","color":"#111111","strokeWidth":1.3,"clip":true},
 "encoding":{"x":{"field":"i","type":"quantitative","title":null},"y":{"field":"v","type":"quantitative","title":null}}},
{"data":{"values":[{"i":278.2,"i2":349,"v":46}]},"mark":{"type":"rule","color":"#00d9a6","strokeWidth":2.2,"strokeDash":[2.5,5]},
 "encoding":{"x":{"field":"i","type":"quantitative","title":null},"x2":{"field":"i2"},"y":{"field":"v","type":"quantitative","title":null}}},
{"data":{"values":[{"i":263.5,"v":50.2,"label":"FastBull"}]},"mark":{"type":"text","font":"Lato","fontWeight":900,"fontSize":112,"align":"left","baseline":"middle","fill":"#ffffff","fillOpacity":0.7,"stroke":"#f3f3f3","strokeWidth":2},
 "encoding":{"x":{"field":"i","type":"quantitative","title":null},"y":{"field":"v","type":"quantitative","title":null},"text":{"field":"label"}}},
{"data":{"values":[{"i":4.62,"v":37.18,"label":"FastBull"}]},"mark":{"type":"text","font":"Lato","fontWeight":"bold","fontSize":41,"align":"left","baseline":"middle","color":"#7ff2da"},
 "encoding":{"x":{"field":"i","type":"quantitative","title":null},"y":{"field":"v","type":"quantitative","title":null},"text":{"field":"label"}}},
{"data":{"values":[{"i":1.96,"v":76.83,"label":"RSI(14,Close)"}]},"mark":{"type":"text","fontSize":16,"align":"left","baseline":"middle","color":"#7b7f87"},
 "encoding":{"x":{"field":"i","type":"quantitative","title":null},"y":{"field":"v","type":"quantitative","title":null},"text":{"field":"label"}}},
{"data":{"values":[{"i":23,"v":76.83,"label":"46.12"}]},"mark":{"type":"text","fontSize":15,"align":"left","baseline":"middle","color":"#111111"},
 "encoding":{"x":{"field":"i","type":"quantitative","title":null},"y":{"field":"v","type":"quantitative","title":null},"text":{"field":"label"}}},
{"data":{"name":"rsiTags"},"mark":{"type":"rect","cornerRadius":3},
 "encoding":{"x":{"field":"i","type":"quantitative","title":null},"x2":{"field":"i2"},"y":{"field":"v","type":"quantitative","title":null},"y2":{"field":"v2"},
  "color":{"field":"kind","type":"nominal","legend":null,"scale":{"domain":["gray","teal"],"range":["#808080","#00d9a6"]}}}},
{"data":{"name":"rsiTagText"},"mark":{"type":"text","fontSize":15,"align":"left","baseline":"middle","color":"#ffffff"},
 "encoding":{"x":{"field":"i","type":"quantitative","title":null},"y":{"field":"v","type":"quantitative","title":null},"text":{"field":"label"}}},
{"data":{"values":[{"i":358.4,"v":18.8}]},"mark":{"type":"point","shape":"M0,-1L0.87,-0.5L0.87,0.5L0,1L-0.87,0.5L-0.87,-0.5Z","size":256,"filled":false,"color":"#444444","strokeWidth":1.5,"opacity":1},
 "encoding":{"x":{"field":"i","type":"quantitative","title":null},"y":{"field":"v","type":"quantitative","title":null}}},
{"data":{"values":[{"i":358.4,"v":18.8}]},"mark":{"type":"point","shape":"circle","size":30,"filled":false,"color":"#444444","strokeWidth":1.5,"opacity":1},
 "encoding":{"x":{"field":"i","type":"quantitative","title":null},"y":{"field":"v","type":"quantitative","title":null}}}
]
}
]
}
